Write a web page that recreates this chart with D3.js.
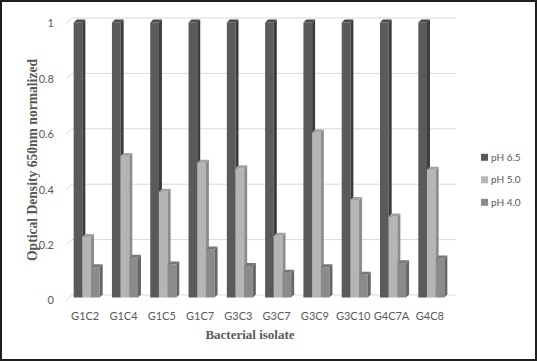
<!DOCTYPE html>
<html><head><meta charset="utf-8">
<script src="https://cdn.jsdelivr.net/npm/d3@7"></script>
<style>html,body{margin:0;padding:0;background:#fff;}svg{display:block;}</style>
</head><body>
<svg id="chart" width="537" height="361"></svg>
<script>
const categories = ["G1C2","G1C4","G1C5","G1C7","G3C3","G3C7","G3C9","G3C10","G4C7A","G4C8"];
const seriesNames = ["pH 6.5","pH 5.0","pH 4.0"];
const ph65 = [1,1,1,1,1,1,1,1,1,1];
const ph50 = [0.22,0.515,0.385,0.49,0.47,0.225,0.6,0.355,0.295,0.465];
const ph40 = [0.11,0.145,0.12,0.175,0.115,0.09,0.11,0.083,0.125,0.142];
const yTicks = [0,0.2,0.4,0.6,0.8,1];
const yTickLabels = ["0","0.2","0.4","0.6","0.8","1"];

const seriesValues = [ph65, ph50, ph40];
const colors = [
  {front:"#5a5a5a", side:"#3c3c3c", top:"#4b4b4b"},
  {front:"#b5b5b5", side:"#8c8c8c", top:"#a2a2a2"},
  {front:"#8b8b8b", side:"#676767", top:"#787878"}
];
const legendColors = ["#5a5a5a","#b5b5b5","#8b8b8b"];

const svg = d3.select("#chart");
const tickFont = "Lato, 'Open Sans', sans-serif";
const textColor = "#595959";

svg.append("rect").attr("x",1).attr("y",1).attr("width",535).attr("height",359)
  .attr("fill","#fff").attr("stroke","#1e1e1e").attr("stroke-width",2);

const yBack = d3.scaleLinear().domain([0,1]).range([295,18]);
const yFront = d3.scaleLinear().domain([0,1]).range([297.5,22.5]);
const x = d3.scaleBand().domain(categories).range([66,452]).paddingInner(0.32).paddingOuter(0.2);
const x1 = d3.scaleBand().domain(seriesNames).range([0, x.bandwidth()]);
const depth = 3;

// gridlines
const grid = svg.append("g");
yTicks.forEach(t => {
  grid.append("line").attr("x1",72).attr("x2",456).attr("y1",yBack(t)).attr("y2",yBack(t))
    .attr("stroke","#d9d9d9").attr("stroke-width",1);
  grid.append("line").attr("x1",66).attr("x2",72).attr("y1",yBack(t)+5.5).attr("y2",yBack(t))
    .attr("stroke","#d9d9d9").attr("stroke-width",1);
});

// tick labels
svg.append("g").selectAll("text").data(yTicks).join("text")
  .attr("x",54).attr("y",d=>yBack(d)+5.5).attr("dy","0.35em")
  .attr("text-anchor","end").attr("font-family",tickFont).attr("font-size",11)
  .attr("fill",textColor).text((d,i)=>yTickLabels[i]);

// bars
const bars = svg.append("g");
categories.forEach((c, ci) => {
  seriesNames.forEach((s, si) => {
    const v = seriesValues[si][ci];
    const x0 = x(c) + x1(s), w = x1.bandwidth();
    const yT = yFront(v), y0 = yFront(0);
    const col = colors[si];
    bars.append("rect").attr("x",x0).attr("y",yT).attr("width",w).attr("height",y0-yT).attr("fill",col.front);
    bars.append("polygon").attr("points",[[x0+w,yT],[x0+w+depth,yT-depth],[x0+w+depth,y0-depth],[x0+w,y0]].map(p=>p.join(",")).join(" "))
      .attr("fill",col.side);
    bars.append("polygon").attr("points",[[x0,yT],[x0+depth,yT-depth],[x0+w+depth,yT-depth],[x0+w,yT]].map(p=>p.join(",")).join(" "))
      .attr("fill",col.top);
  });
});

// category labels
svg.append("g").selectAll("text").data(categories).join("text")
  .attr("x",d=>x(d)+x.bandwidth()/2-1.5).attr("y",320)
  .attr("text-anchor","middle").attr("font-family",tickFont).attr("font-size",11)
  .attr("fill",textColor).text(d=>d);

// axis titles
svg.append("text").attr("transform","translate(37,160) rotate(-90)")
  .attr("text-anchor","middle").attr("font-family","'Liberation Serif', 'Times New Roman', serif")
  .attr("font-weight","bold").attr("font-size",13.6).attr("fill",textColor)
  .text("Optical Density 650nm normalized");
svg.append("text").attr("x",250).attr("y",339)
  .attr("text-anchor","middle").attr("font-family","'Liberation Serif', 'Times New Roman', serif")
  .attr("font-weight","bold").attr("font-size",13).attr("fill",textColor)
  .text("Bacterial isolate");

// legend
const lg = svg.append("g");
seriesNames.forEach((s,i) => {
  const cy = 157.3 + i*22.5;
  lg.append("rect").attr("x",481).attr("y",cy-3.5).attr("width",7).attr("height",7).attr("fill",legendColors[i]);
  lg.append("text").attr("x",491).attr("y",cy).attr("dy","0.35em")
    .attr("font-family",tickFont).attr("font-size",10).attr("fill",textColor).text(s);
});
</script>
</body></html>
